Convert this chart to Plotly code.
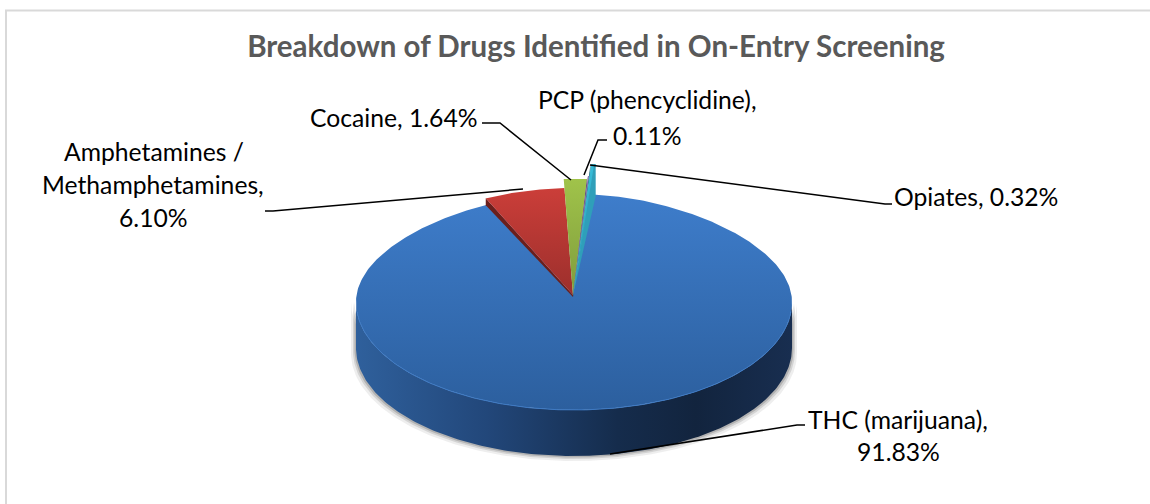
import numpy as np
import plotly.graph_objects as go

categories = ["THC (marijuana)", "Amphetamines / Methamphetamines", "Cocaine", "PCP (phencyclidine)", "Opiates"]
values = [91.83, 6.10, 1.64, 0.11, 0.32]
title = "Breakdown of Drugs Identified in On-Entry Screening"

W, H = 1150, 504
CX, CY, RX, RY = 574, 302, 218, 108
AX, AY = 573, 295
DEPTH = 46
START = 4.8
EXPLODE = [1.0, 1.06, 1.15, 1.18, 1.30]
TOP = [[0, "#2c5f9e"], [1, "#3e7dcb"]]
FILLS = [None, ("#9c2f2c", "#cb3e39"), ("#7f9c3c", "#a0c34a"), ("#6a4a92", "#8460b5"), ("#2a9ab5", "#37bcd8")]
SIDES = [None, "#6b1f1c", "#56692a", "#46305f", "#1b6678"]
FONT = "Lato"


def xy(t_deg, f=1.0):
    t = np.radians(np.asarray(t_deg, dtype=float))
    pinch = 1 - 0.1 * np.maximum(np.cos(t), 0) ** 2
    x = CX + RX * np.sin(t) * pinch
    y = CY - RY * np.cos(t)
    return AX + (x - AX) * f, AY + (y - AY) * f


cum = np.concatenate([[0], np.cumsum(values)]) / sum(values) * 360 + START
fig = go.Figure()


def poly(x, y, **kw):
    fig.add_trace(go.Scatter(x=x, y=y, mode="lines", fill="toself", hoverinfo="skip",
                             showlegend=False, **kw))


# soft shadow under the disc
ta = np.linspace(90, 270, 200)
for grow, alpha in [(5, 0.10), (3, 0.18), (1.5, 0.28)]:
    xa, ya = xy(ta)
    xa = CX + (xa - CX) * (RX + grow) / RX
    xt = np.concatenate([xa, xa[::-1]])
    yt = np.concatenate([ya + DEPTH + grow, ya[::-1]])
    poly(xt, yt, line=dict(width=0), fillcolor=f"rgba(90,90,90,{alpha})")

# side wall of the disc
xa, ya = xy(ta)
poly(np.concatenate([xa, xa[::-1]]), np.concatenate([ya + DEPTH, ya[::-1]]),
     line=dict(width=0),
     fillgradient=dict(type="horizontal", colorscale=[[0, "#2f609c"], [0.3, "#22477a"], [0.6, "#152c4c"],
                                                      [0.78, "#12243e"], [1, "#182e50"]]))

# top of the disc (largest slice)
th = np.linspace(cum[0], cum[1], 400)
xm, ym = xy(th)
poly(np.r_[AX, xm, AX], np.r_[AY, ym, AY], line=dict(width=0),
     fillgradient=dict(type="vertical", colorscale=TOP))

# rim highlight
tr = np.linspace(95, 265, 200)
xr, yr = xy(tr)
fig.add_trace(go.Scatter(x=xr, y=yr, mode="lines", line=dict(color="#3e7ac4", width=1),
                         hoverinfo="skip", showlegend=False))

# pulled-out slices
for i in range(1, len(values)):
    t = np.linspace(cum[i], cum[i + 1], 40)
    f = EXPLODE[i]
    xs, ys = xy(t, f)
    # thickness along the cut edge
    ex, ey = xy([cum[i]], f)
    poly([AX, ex[0], ex[0], AX], [AY, ey[0], ey[0] + 7, AY + 2],
         line=dict(width=0), fillcolor=SIDES[i])
    poly(np.r_[AX, xs, AX], np.r_[AY, ys, AY], line=dict(width=0),
         fillgradient=dict(type="vertical", colorscale=[[0, FILLS[i][0]], [1, FILLS[i][1]]]))

# wall of the last slice, seen past its right edge
wx, wy = xy([cum[-1]], EXPLODE[-1])
poly([wx[0] - 1.5, wx[0], wx[0], AX], [wy[0], wy[0], wy[0] + 32, AY],
     line=dict(width=0), fillcolor="#2f9fb9")

# leader lines
leaders = [
    ([265, 273, 523], [211, 211, 189]),
    ([482, 500, 571], [123, 123, 180]),
    ([584, 598, 607], [175, 140, 140]),
    ([892, 885, 590], [204, 204, 165]),
    ([805, 797, 610], [425, 425, 454]),
]
for lx, ly in leaders:
    fig.add_trace(go.Scatter(x=lx, y=ly, mode="lines", line=dict(color="black", width=1.5),
                             hoverinfo="skip", showlegend=False))


def pct(v):
    return f"{v:.2f}%"


labels = [
    ("Amphetamines /", 154, 151), ("Methamphetamines,", 153, 184), (pct(values[1]), 153, 217),
    (f"{categories[2]}, {pct(values[2])}", 394, 117),
    (f"{categories[3]},", 647, 99), (pct(values[3]), 647, 135),
    (f"{categories[4]}, {pct(values[4])}", 976, 196),
    (f"{categories[0]},", 898, 419), (pct(values[0]), 898, 451),
]
annotations = [dict(text=s, x=x, y=y, xref="x", yref="y", showarrow=False, xanchor="center", yanchor="middle",
                    font=dict(family=FONT, size=24.7, color="black")) for s, x, y in labels]

fig.update_layout(
    width=W, height=H, margin=dict(l=0, r=0, t=0, b=0), autosize=False,
    paper_bgcolor="white", plot_bgcolor="white",
    title=dict(text=f"<b>{title}</b>", x=596 / W, y=1 - 47 / H, xanchor="center", yanchor="middle",
               font=dict(family=FONT, size=29.5, color="#595959")),
    xaxis=dict(range=[0, W], visible=False, fixedrange=True),
    yaxis=dict(range=[H, 0], visible=False, fixedrange=True),
    annotations=annotations,
    shapes=[dict(type="rect", x0=6, y0=10.5, x1=1170, y1=520, line=dict(color="#d9d9d9", width=2),
                 xref="x", yref="y", layer="below")],
    showlegend=False,
)
fig.write_html("out.html", config={"displayModeBar": False},
               post_script="document.body.style.margin='0';document.documentElement.style.overflow='hidden';")
